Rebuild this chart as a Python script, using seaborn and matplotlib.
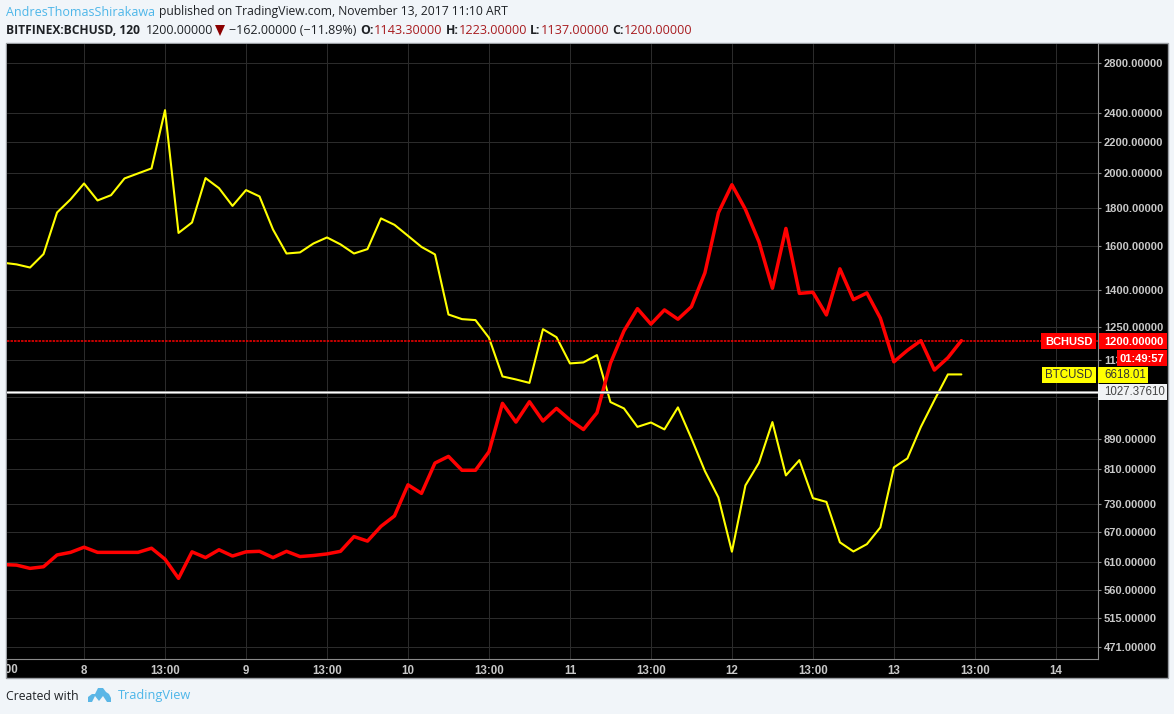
import numpy as np
import pandas as pd
import seaborn as sns
import matplotlib
matplotlib.use('Agg')
import matplotlib.pyplot as plt
from matplotlib.patches import Rectangle, Polygon
from matplotlib.ticker import FixedLocator, NullLocator, NullFormatter

bchusd = [606,605,599,602,624,629,639,629,629,629,629,637,
          616,581,630,619,634,622,630,631,619,631,621,623,
          626,631,660,651,681,703,773,753,826,843,808,808,
          855,991,936,996,939,976,942,915,963,1120,1236,1323,
          1262,1318,1281,1331,1476,1773,1931,1791,1623,1408,1690,1386,
          1391,1298,1494,1360,1388,1285,1125,1165,1200,1097,1139,1200]
btcusd = [7198,7189,7172,7245,7475,7549,7640,7543,7573,7669,7698,7727,
          8073,7361,7419,7671,7613,7512,7602,7566,7380,7248,7254,7303,
          7336,7298,7248,7272,7442,7406,7345,7284,7243,6923,6899,6894,
          6803,6608,6593,6576,6847,6806,6673,6678,6715,6482,6451,6362,
          6383,6350,6456,6307,6154,6033,5792,6088,6192,6385,6134,6205,
          6030,6013,5833,5793,5825,5899,6171,6213,6362,6491,6618,6618]
price_ticks = [2800,2400,2200,2000,1800,1600,1400,1250,1130,1010,890,810,730,670,610,560,515,471]
hidden_ticks = [1010]
time_labels = ['13:00','8','13:00','9','13:00','10','13:00','11','13:00','12','13:00','13','13:00','14']
bars_per_label = 6
first_bar = -6
last_bch = 1200
last_btc = '6618.01'
mark_price = 1027.3761

W, H = 1174, 714
BG = '#f1f5f9'
AXC = '#8a8a8a'
LAB = '#c8c8c8'
GRID = '#2b2b2b'
FS = 8.0
sns.set_style('white')
plt.rcParams['font.family'] = ['Liberation Sans', 'DejaVu Sans']
fig = plt.figure(figsize=(W/100, H/100), dpi=100, facecolor=BG)

def box(l, t, r, b):
    return [l/W, 1-b/H, (r-l)/W, (b-t)/H]
def fx(x): return x/W
def fy(y): return 1-y/H

# black frame of the widget
fig.add_artist(Rectangle((fx(6), fy(677.5)), (1167.5-6)/W, (677.5-43)/H, transform=fig.transFigure,
                         fc='black', ec='#9a9ea3', lw=1, zorder=-1))

ax = fig.add_axes(box(6.7, 43.5, 1097.7, 658.5), facecolor='black')
df = pd.DataFrame({'bar': np.arange(len(bchusd)) + first_bar, 'bch': bchusd, 'btc': btcusd})

ax.set_yscale('log')
ax.set_ylim(455, 2971)
ax.set_xlim(-5.73, 75.1)
ax.yaxis.set_major_locator(FixedLocator(price_ticks))
ax.yaxis.set_minor_locator(NullLocator())
ax.yaxis.set_minor_formatter(NullFormatter())
ax.set_yticklabels(['' if v in hidden_ticks else f'{v:.5f}' for v in price_ticks])
ticks_x = [first_bar + i*bars_per_label for i in range(len(time_labels))]
ax.set_xticks(ticks_x[1:])
ax.set_xticklabels(time_labels[1:])
ax.grid(True, color=GRID, lw=0.75)
ax.set_axisbelow(True)
for s in ('top', 'left'):
    ax.spines[s].set_visible(False)
for s in ('right', 'bottom'):
    ax.spines[s].set_color(AXC)
    ax.spines[s].set_linewidth(0.8)

# clipped label at the left edge
clip = Rectangle((fx(6.7), fy(677)), 1, 40/H, transform=fig.transFigure)
t0 = ax.text(ticks_x[0], -0.0088, time_labels[0], transform=ax.get_xaxis_transform(), ha='center', va='top',
             color=LAB, fontsize=FS+0.3, fontweight='bold', clip_on=True)
t0.set_clip_path(clip)

# BTC on its own hidden log scale
ax2 = ax.twinx()
ax2.set_yscale('log')
ax2.set_ylim(5345, 8488)
ax2.axis('off')
sns.lineplot(data=df, x='bar', y='btc', ax=ax2, color='#ffff00', lw=1.5, errorbar=None, legend=False, zorder=3)
ax2.set_xlim(ax.get_xlim())

# overlay axes sharing the price scale for BCH and price lines
ax3 = ax.twinx()
ax3.set_yscale('log')
ax3.set_ylim(ax.get_ylim())
ax3.axis('off')
sns.lineplot(data=df, x='bar', y='bch', ax=ax3, color='#ff0000', lw=2.5, errorbar=None, legend=False, zorder=3)
ax3.axhline(last_bch, color='#ff0000', lw=1.1, ls=(0, (1.6, 0.7)), zorder=4)
ax3.axhline(mark_price, color=AXC, lw=2, zorder=5)
ax3.axhline(mark_price, color='white', lw=1, zorder=6)
ax3.set_xlim(ax.get_xlim())
ax3.set_ylim(ax.get_ylim())

# twinx moved the ticks to the left; the price scale sits on the right
ax.yaxis.tick_right()
ax.tick_params(axis='both', which='major', length=2.5, width=0.8, color=AXC, labelcolor=LAB,
               labelsize=FS, pad=2, direction='out')
ax.tick_params(axis='x', pad=2.4, labelsize=FS+0.3)
for lab in ax.get_xticklabels() + ax.get_yticklabels():
    lab.set_fontweight('bold')
ax.set_xlabel(''); ax.set_ylabel('')
ax.spines['right'].set_visible(True)

def tag(l, t, r, b, fc, text, color, x=None, ha='center', weight='bold', size=FS):
    fig.add_artist(Rectangle((fx(l), fy(b)), (r-l)/W, (b-t)/H, transform=fig.transFigure, fc=fc, ec='none', zorder=10))
    xx = (l+r)/2 if x is None else x
    fig.text(fx(xx), fy((t+b)/2+0.5), text, color=color, ha=ha, va='center', fontsize=size, fontweight=weight, zorder=11)

tag(1041, 333, 1096, 349, '#ff0000', 'BCHUSD', 'white')
tag(1099, 333, 1167, 349, '#ff0000', f'{last_bch:.5f}', 'white', x=1104, ha='left')
tag(1117, 350, 1167, 366, '#ff0000', '01:49:57', 'white')
tag(1042, 367, 1096, 383, '#ffff00', 'BTCUSD', '#333333', weight='normal', size=8.3)
tag(1098, 367, 1148, 383, '#ffff00', last_btc, '#333333', x=1104, ha='left', weight='normal', size=8.3)
tag(1098, 384, 1167, 399.5, '#f1f3f5', f'{mark_price:.5f}', '#444444', x=1104, ha='left', weight='normal', size=8.3)

# header
HF = ['Open Sans', 'DejaVu Sans']
def hdr(x, y, s, color='#1f2226', weight='normal', size=9.1):
    fig.text(fx(x), fy(y), s, color=color, fontsize=size, fontweight=weight, family=HF, ha='left', va='center')

BLUE = '#4db6e9'
DRED = '#a81c20'
hdr(6, 12, 'AndresThomasShirakawa', color=BLUE, size=9.0)
hdr(159, 12, 'published on TradingView.com, November 13, 2017 11:10 ART', size=8.7)
hdr(6, 30, 'BITFINEX:BCHUSD, 120', weight='bold', size=8.65)
hdr(146, 30, '1200.00000', size=9.0)
fig.add_artist(Polygon([(fx(215), fy(25)), (fx(225), fy(25)), (fx(220), fy(36))], closed=True,
                       transform=fig.transFigure, fc='#8b0000', ec='none'))
hdr(229, 30, '\u2212162.00000 (\u221211.89%)', size=9.0)
for x, lab, xv, val in [(360, 'O:', 374, '1143.30000'), (446, 'H:', 459, '1223.00000'),
                        (530, 'L:', 541, '1137.00000'), (612, 'C:', 624, '1200.00000')]:
    hdr(x, 30, lab, weight='bold', size=8.8)
    hdr(xv, 30, val, color=DRED)

# footer
hdr(6, 696, 'Created with', size=8.8)
hdr(118, 696, 'TradingView', color=BLUE, size=9.15)
cloud = [(88,702),(88,697),(92,694),(95,694),(98,688),(103,688),(106,692),(109,694),(111,698),(111,702),
         (107,702),(103,696),(99,701),(95,696),(92,702)]
fig.add_artist(Polygon([(fx(a), fy(b)) for a, b in cloud], closed=True, transform=fig.transFigure, fc='#5ab6e6', ec='none'))

fig.savefig('out.png', dpi=100, facecolor=BG)
